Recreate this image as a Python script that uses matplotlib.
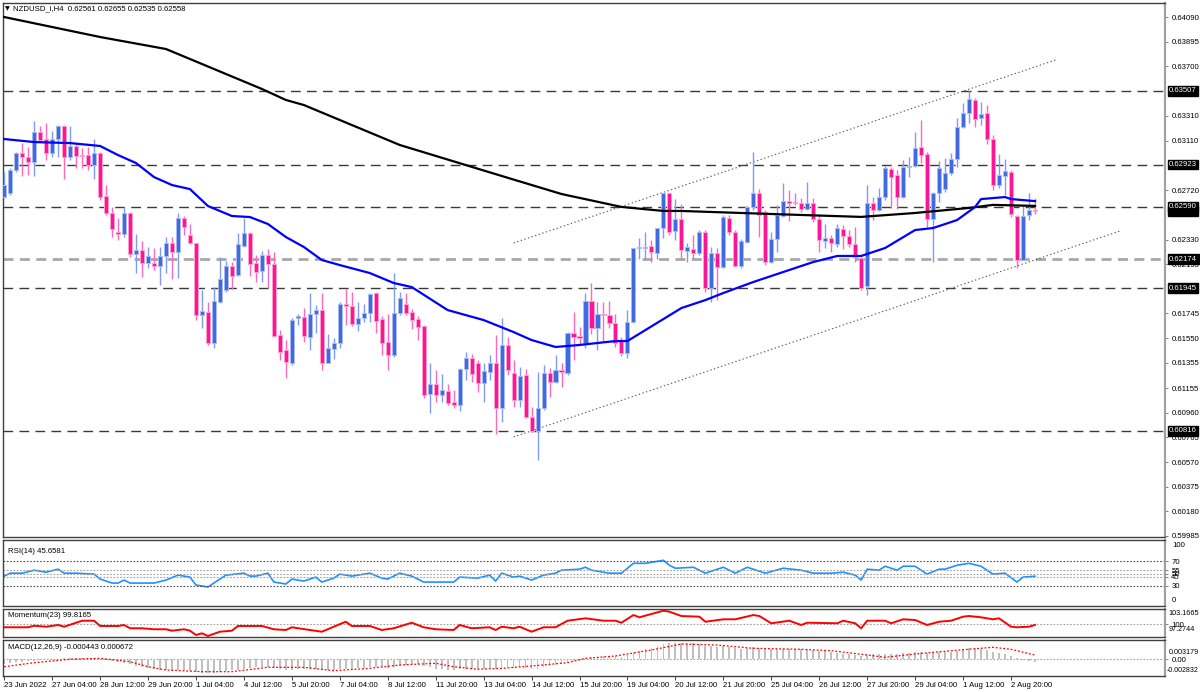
import numpy as np
import matplotlib
matplotlib.use("Agg")
import matplotlib.pyplot as plt
import matplotlib.transforms as mtransforms

plt.rcParams["font.family"] = ["Liberation Sans", "DejaVu Sans"]

# NZDUSD H4 candles, 23 Jun 2022 20:00 .. 3 Aug 2022 12:00 (bar index 0..172)
opens = [0.62667, 0.62698, 0.62880, 0.63015, 0.62983, 0.62944, 0.63181, 0.63126, 0.63015, 0.63126,
         0.63228, 0.62983, 0.63070, 0.62999, 0.62999, 0.62920, 0.63015, 0.62675, 0.62540, 0.62390,
         0.62374, 0.62540, 0.62216, 0.62248, 0.62145, 0.62145, 0.62121, 0.62200, 0.62303, 0.62232,
         0.62501, 0.62366, 0.62303, 0.61733, 0.61757, 0.61512, 0.61836, 0.61931, 0.62121, 0.62050,
         0.62279, 0.62382, 0.62145, 0.62081, 0.62208, 0.62137, 0.61575, 0.61457, 0.61354, 0.61710,
         0.61718, 0.61559, 0.61741, 0.61773, 0.61354, 0.61464, 0.61512, 0.61820, 0.61804, 0.61662,
         0.61710, 0.61749, 0.61907, 0.61702, 0.61520, 0.61417, 0.61749, 0.61820, 0.61757, 0.61702,
         0.61646, 0.61108, 0.61188, 0.61100, 0.61132, 0.61045, 0.61021, 0.61306, 0.61393, 0.61354,
         0.61195, 0.61283, 0.61354, 0.60998, 0.61496, 0.61275, 0.61061, 0.61259, 0.60927, 0.60816,
         0.60998, 0.61275, 0.61203, 0.61298, 0.61275, 0.61591, 0.61567, 0.61512, 0.61844, 0.61630,
         0.61741, 0.61733, 0.61670, 0.61536, 0.61433, 0.61678, 0.62263, 0.62263, 0.62279, 0.62224,
         0.62421, 0.62698, 0.62398, 0.62493, 0.62240, 0.62255, 0.62224, 0.62390, 0.61947, 0.62224,
         0.62113, 0.62501, 0.62390, 0.62121, 0.62311, 0.62588, 0.62698, 0.62548, 0.62153, 0.62335,
         0.62516, 0.62635, 0.62627, 0.62619, 0.62572, 0.62619, 0.62493, 0.62319, 0.62342, 0.62295,
         0.62414, 0.62358, 0.62295, 0.62184, 0.61963, 0.62619, 0.62564, 0.62667, 0.62888, 0.62841,
         0.62667, 0.62904, 0.62912, 0.63062, 0.63007, 0.62493, 0.62698, 0.62730, 0.62857, 0.62967,
         0.63220, 0.63331, 0.63434, 0.63292, 0.63331, 0.63126, 0.62762, 0.62833, 0.62864, 0.62516,
         0.62168, 0.62524, 0.62561]
highs = [0.62864, 0.62896, 0.63023, 0.63094, 0.63062, 0.63268, 0.63228, 0.63252, 0.63189, 0.63236,
         0.63236, 0.63228, 0.63094, 0.63054, 0.63062, 0.63126, 0.63023, 0.62762, 0.62588, 0.62501,
         0.62588, 0.62548, 0.62374, 0.62319, 0.62271, 0.62263, 0.62271, 0.62350, 0.62350, 0.62540,
         0.62516, 0.62453, 0.62303, 0.61931, 0.61836, 0.61955, 0.62192, 0.62160, 0.62153, 0.62382,
         0.62501, 0.62390, 0.62208, 0.62240, 0.62255, 0.62232, 0.61615, 0.61536, 0.61710, 0.61741,
         0.61789, 0.61907, 0.61812, 0.61907, 0.61583, 0.61551, 0.61836, 0.61939, 0.61915, 0.61836,
         0.61820, 0.61907, 0.61915, 0.61725, 0.61741, 0.62066, 0.61915, 0.61907, 0.61781, 0.61725,
         0.61654, 0.61354, 0.61298, 0.61267, 0.61188, 0.61140, 0.61314, 0.61441, 0.61425, 0.61377,
         0.61354, 0.61417, 0.61575, 0.61710, 0.61559, 0.61377, 0.61322, 0.61306, 0.61006, 0.61283,
         0.61338, 0.61314, 0.61417, 0.61354, 0.61599, 0.61757, 0.61638, 0.61907, 0.61987, 0.61836,
         0.61836, 0.61844, 0.61741, 0.61559, 0.61773, 0.62263, 0.62342, 0.62390, 0.62327, 0.62421,
         0.62698, 0.62698, 0.62651, 0.62611, 0.62303, 0.62366, 0.62406, 0.62406, 0.62271, 0.62263,
         0.62524, 0.62524, 0.62406, 0.62335, 0.62596, 0.63023, 0.62730, 0.62564, 0.62390, 0.62603,
         0.62778, 0.62722, 0.62698, 0.62659, 0.62785, 0.62659, 0.62524, 0.62453, 0.62366, 0.62453,
         0.62445, 0.62406, 0.62429, 0.62192, 0.62762, 0.62667, 0.62738, 0.62912, 0.62904, 0.62880,
         0.62959, 0.62983, 0.63181, 0.63276, 0.63023, 0.62706, 0.62951, 0.62975, 0.63015, 0.63292,
         0.63410, 0.63507, 0.63450, 0.63418, 0.63394, 0.63157, 0.63007, 0.62967, 0.62880, 0.62524,
         0.62596, 0.62698, 0.62655]
lows = [0.62659, 0.62683, 0.62864, 0.62833, 0.62841, 0.62833, 0.63102, 0.62959, 0.62983, 0.62983,
        0.62809, 0.62959, 0.62896, 0.62896, 0.62880, 0.62809, 0.62643, 0.62524, 0.62350, 0.62327,
        0.62350, 0.62192, 0.62066, 0.62034, 0.62105, 0.62089, 0.61971, 0.62066, 0.62018, 0.62026,
        0.62366, 0.62295, 0.61694, 0.61630, 0.61496, 0.61472, 0.61828, 0.61915, 0.61939, 0.62042,
        0.62271, 0.62042, 0.61994, 0.61994, 0.61947, 0.61559, 0.61377, 0.61235, 0.61338, 0.61654,
        0.61520, 0.61457, 0.61591, 0.61298, 0.61354, 0.61385, 0.61472, 0.61654, 0.61646, 0.61607,
        0.61678, 0.61678, 0.61591, 0.61417, 0.61298, 0.61401, 0.61733, 0.61733, 0.61623, 0.61536,
        0.61077, 0.60958, 0.61045, 0.61045, 0.61021, 0.60998, 0.60974, 0.61219, 0.61203, 0.61124,
        0.61045, 0.61219, 0.60792, 0.60887, 0.61259, 0.61006, 0.61006, 0.60919, 0.60808, 0.60586,
        0.60982, 0.61085, 0.61195, 0.61164, 0.61259, 0.61377, 0.61496, 0.61472, 0.61583, 0.61457,
        0.61520, 0.61630, 0.61480, 0.61409, 0.61393, 0.61670, 0.62176, 0.62176, 0.62153, 0.62176,
        0.62342, 0.62366, 0.62327, 0.62168, 0.62153, 0.62176, 0.62208, 0.61915, 0.61836, 0.61852,
        0.62105, 0.62366, 0.62113, 0.62105, 0.62303, 0.62564, 0.62350, 0.62129, 0.62145, 0.62232,
        0.62509, 0.62477, 0.62603, 0.62548, 0.62564, 0.62469, 0.62232, 0.62263, 0.62232, 0.62271,
        0.62255, 0.62271, 0.62153, 0.61931, 0.61892, 0.62485, 0.62556, 0.62643, 0.62580, 0.62572,
        0.62659, 0.62825, 0.62904, 0.62936, 0.62429, 0.62153, 0.62627, 0.62706, 0.62841, 0.62904,
        0.63212, 0.63252, 0.63220, 0.63236, 0.63086, 0.62722, 0.62738, 0.62683, 0.62509, 0.62105,
        0.62168, 0.62485, 0.62535]
closes = [0.62762, 0.62880, 0.63015, 0.62983, 0.62944, 0.63181, 0.63118, 0.63015, 0.63126, 0.63228,
          0.62983, 0.63070, 0.62991, 0.62991, 0.62920, 0.63015, 0.62667, 0.62540, 0.62414, 0.62374,
          0.62540, 0.62216, 0.62248, 0.62145, 0.62200, 0.62121, 0.62200, 0.62303, 0.62232, 0.62501,
          0.62429, 0.62303, 0.61733, 0.61765, 0.61512, 0.61844, 0.62018, 0.62121, 0.62042, 0.62295,
          0.62382, 0.62137, 0.62074, 0.62208, 0.62137, 0.61567, 0.61441, 0.61362, 0.61694, 0.61725,
          0.61567, 0.61741, 0.61773, 0.61354, 0.61472, 0.61512, 0.61820, 0.61804, 0.61662, 0.61710,
          0.61749, 0.61899, 0.61686, 0.61512, 0.61417, 0.61749, 0.61868, 0.61749, 0.61694, 0.61638,
          0.61100, 0.61188, 0.61100, 0.61140, 0.61037, 0.61021, 0.61306, 0.61393, 0.61267, 0.61195,
          0.61290, 0.61354, 0.60998, 0.61496, 0.61298, 0.61061, 0.61251, 0.60927, 0.60816, 0.60998,
          0.61275, 0.61203, 0.61298, 0.61283, 0.61591, 0.61559, 0.61551, 0.61844, 0.61630, 0.61741,
          0.61733, 0.61670, 0.61512, 0.61433, 0.61678, 0.62263, 0.62271, 0.62271, 0.62232, 0.62421,
          0.62698, 0.62390, 0.62493, 0.62248, 0.62271, 0.62224, 0.62390, 0.61947, 0.62224, 0.62113,
          0.62509, 0.62390, 0.62121, 0.62319, 0.62588, 0.62698, 0.62524, 0.62153, 0.62335, 0.62524,
          0.62635, 0.62619, 0.62619, 0.62572, 0.62619, 0.62493, 0.62327, 0.62342, 0.62303, 0.62421,
          0.62358, 0.62295, 0.62192, 0.61947, 0.62619, 0.62564, 0.62667, 0.62896, 0.62825, 0.62667,
          0.62904, 0.62912, 0.63054, 0.62999, 0.62493, 0.62698, 0.62896, 0.62857, 0.62967, 0.63220,
          0.63331, 0.63442, 0.63284, 0.63323, 0.63126, 0.62762, 0.62841, 0.62872, 0.62532, 0.62168,
          0.62516, 0.62564, 0.62558]

# moving averages (bar index, price)
ma_fast_bars = [0, 5, 11, 16, 19, 22, 25, 28, 31, 34, 38, 41, 44, 47, 50, 53, 56, 61, 65, 68, 74,
                80, 85, 88, 92, 96, 102, 104, 107, 113, 117, 120, 125, 131, 135, 139, 143, 147,
                152, 155, 159, 162, 163, 167, 168, 172]
ma_fast = [0.63125, 0.63101, 0.63093, 0.63070, 0.62998, 0.62935, 0.62824, 0.62761, 0.62729,
           0.62595, 0.62516, 0.62508, 0.62453, 0.62350, 0.62271, 0.62168, 0.62128, 0.62065,
           0.61986, 0.61954, 0.61772, 0.61693, 0.61598, 0.61535, 0.61480, 0.61496, 0.61527,
           0.61527, 0.61614, 0.61788, 0.61851, 0.61907, 0.61994, 0.62089, 0.62152, 0.62200,
           0.62200, 0.62263, 0.62405, 0.62421, 0.62484, 0.62587, 0.62650, 0.62666, 0.62650, 0.62634]
ma_slow_bars = [0, 16, 27, 43, 47, 50, 66, 83, 93, 103, 110, 113, 128, 143, 152, 161, 165, 172]
ma_slow = [0.64090, 0.63932, 0.63837, 0.63521, 0.63434, 0.63394, 0.63078, 0.62833, 0.62690,
           0.62588, 0.62556, 0.62556, 0.62532, 0.62509, 0.62540, 0.62580, 0.62604, 0.62596]

# horizontal levels and channel lines
levels = [0.63507, 0.62923, 0.62590, 0.61945, 0.60816]
level_grey = 0.62174
channel_upper = ([85, 175.4], [0.62303, 0.63750])
channel_lower = ([85, 186.2], [0.60768, 0.62398])
last_price = 0.62558

price_ticks = [0.64090, 0.63895, 0.63700, 0.63310, 0.63110, 0.62720, 0.62330, 0.62135,
               0.61745, 0.61550, 0.61355, 0.61155, 0.60960, 0.60765, 0.60570, 0.60375,
               0.60180, 0.59985]

# indicators (bar index, value)
rsi_bars = [0, 1, 3, 5, 7, 9, 10, 12, 15, 16, 18, 19, 20, 21, 25, 27, 29, 31, 32, 34, 36, 37, 40,
            41, 42, 44, 45, 47, 48, 50, 52, 53, 55, 56, 58, 61, 63, 64, 66, 68, 70, 75, 76, 79,
            81, 82, 83, 85, 86, 88, 90, 92, 93, 96, 97, 98, 101, 103, 105, 107, 110, 111, 112,
            115, 117, 118, 120, 122, 124, 127, 130, 133, 135, 138, 140, 142, 143, 144, 146, 147,
            149, 150, 152, 154, 156, 157, 159, 161, 163, 165, 167, 169, 170, 172]
rsi = [45.8, 50.5, 50.5, 55.3, 52.1, 56.9, 50.5, 50.5, 49.0, 41.1, 34.7, 34.7, 39.5, 34.7, 34.7,
       39.5, 47.4, 44.2, 31.6, 28.4, 41.1, 47.4, 50.5, 45.8, 45.8, 50.5, 36.3, 33.2, 41.1, 37.9,
       44.2, 36.3, 42.6, 49.0, 45.8, 50.5, 42.6, 41.1, 50.5, 45.8, 36.3, 36.3, 44.2, 42.6, 47.4,
       37.9, 50.5, 44.2, 45.8, 39.5, 47.4, 50.5, 55.3, 56.9, 60.0, 55.3, 50.5, 50.5, 66.3, 66.3,
       71.1, 63.2, 58.4, 60.0, 50.5, 53.7, 60.0, 50.5, 60.0, 50.5, 58.4, 55.3, 50.5, 50.5, 52.1,
       47.4, 39.5, 56.9, 55.3, 61.6, 55.3, 61.6, 61.6, 49.0, 56.9, 56.9, 63.2, 66.3, 61.6, 49.0,
       50.5, 36.3, 44.2, 45.66]

mom_bars = [0, 4, 5, 7, 9, 10, 12, 13, 15, 16, 19, 20, 21, 23, 25, 27, 28, 30, 31, 32, 33, 34,
            36, 38, 39, 43, 45, 47, 48, 51, 53, 55, 57, 58, 61, 63, 65, 66, 68, 70, 72, 75, 76,
            78, 81, 82, 83, 85, 86, 88, 90, 92, 94, 97, 100, 102, 103, 105, 106, 110, 111, 113,
            116, 117, 120, 122, 125, 126, 128, 131, 133, 134, 139, 140, 142, 143, 144, 147, 148,
            150, 152, 154, 156, 158, 160, 161, 163, 165, 166, 168, 169, 171, 172]
mom = [99.32, 99.32, 99.65, 99.44, 99.80, 99.44, 100.28, 100.70, 100.70, 99.59, 99.59, 99.80,
       99.11, 99.11, 98.90, 98.90, 98.60, 98.90, 98.60, 97.70, 98.05, 97.49, 98.39, 98.60, 99.59,
       99.59, 98.90, 98.75, 99.32, 98.75, 98.39, 99.44, 100.49, 99.59, 99.59, 98.75, 99.11, 99.49,
       100.28, 99.32, 98.90, 98.75, 99.80, 99.11, 99.32, 98.75, 99.44, 99.11, 99.44, 98.39, 99.32,
       99.32, 100.70, 101.21, 100.70, 100.70, 100.28, 101.90, 101.42, 102.81, 102.60, 101.69,
       101.55, 100.49, 101.00, 101.00, 101.90, 101.69, 100.16, 100.70, 99.80, 100.28, 100.16,
       100.70, 100.16, 99.11, 100.70, 100.70, 100.16, 101.00, 100.85, 99.80, 100.49, 100.70,
       101.55, 101.69, 101.42, 101.00, 101.21, 99.44, 99.32, 99.44, 99.8165]

# MACD main (histogram) per bar, in 1e-6
macd_hist = [-800, -700, -550, -450, -350, -250, -150, -50, 0, 50, 100, 150, 150, 150, 150, 120,
             50, -100, -300, -500, -700, -900, -1100, -1300, -1500, -1700, -1800, -1900, -2000,
             -1900, -1900, -2000, -2200, -2300, -2400, -2300, -2200, -2000, -1900, -1800, -1600,
             -1500, -1400, -1300, -1300, -1500, -1700, -1900, -1800, -1700, -1700, -1600, -1600,
             -1800, -1900, -1900, -1700, -1600, -1600, -1500, -1500, -1300, -1300, -1400, -1500,
             -1300, -1100, -1000, -900, -900, -1200, -1400, -1600, -1700, -1800, -1900, -1700,
             -1600, -1600, -1600, -1600, -1500, -1700, -1400, -1400, -1500, -1400, -1500, -1700,
             -1600, -1300, -1200, -1000, -900, -500, -300, -100, 200, 300, 400, 500, 500, 500, 400,
             600, 1100, 1400, 1700, 1900, 2100, 2500, 2600, 2700, 2700, 2600, 2600, 2500, 2200,
             2100, 2000, 2100, 2000, 1800, 1700, 1800, 2000, 1900, 1700, 1600, 1600, 1700, 1700,
             1600, 1600, 1600, 1500, 1400, 1300, 1100, 1000, 900, 800, 700, 500, 700, 800, 800, 900,
             900, 900, 1000, 1000, 1100, 1100, 1000, 1000, 1100, 1100, 1200, 1400, 1600, 1800,
             1800, 1700, 1500, 1200, 1000, 800, 500, 100, -100, -300, -443]
sig_bars = [0, 5, 11, 16, 21, 24, 27, 33, 38, 44, 50, 55, 61, 66, 72, 75, 79, 83, 88, 94, 97, 102,
            108, 113, 119, 125, 133, 138, 144, 147, 152, 158, 165, 168, 172]
macd_signal = [-0.00128, -0.00061, -0.00004, 0.00012, -0.00044, -0.00128, -0.00183, -0.00211,
               -0.00211, -0.00138, -0.00138, -0.00195, -0.00155, -0.00100, -0.00071, -0.00128,
               -0.00171, -0.00155, -0.00116, -0.00061, 0.00012, 0.00051, 0.00151, 0.00251,
               0.00234, 0.00179, 0.00163, 0.00139, 0.00068, 0.00029, 0.00084, 0.00139, 0.00196,
               0.00163, 0.00067]

time_labels = ["23 Jun 2022", "27 Jun 04:00", "28 Jun 12:00", "29 Jun 20:00", "1 Jul 04:00",
               "4 Jul 12:00", "5 Jul 20:00", "7 Jul 04:00", "8 Jul 12:00", "11 Jul 20:00",
               "13 Jul 04:00", "14 Jul 12:00", "15 Jul 20:00", "19 Jul 04:00", "20 Jul 12:00",
               "21 Jul 20:00", "25 Jul 04:00", "26 Jul 12:00", "27 Jul 20:00", "29 Jul 04:00",
               "1 Aug 12:00", "2 Aug 20:00"]

FS = 5.6
W, H = 1200, 692
fig = plt.figure(figsize=(W / 100, H / 100), dpi=100)


def panel(top, bottom):
    a = fig.add_axes([3 / W, 1 - bottom / H, 1162 / W, (bottom - top) / H])
    for s in ["left", "top", "bottom"]:
        a.spines[s].set_color("#404040")
        a.spines[s].set_linewidth(1)
    a.spines["right"].set_color("#a0a0a0")
    a.spines["right"].set_linewidth(1.6)
    a.set_xlim(-0.2, 193.7)
    a.yaxis.tick_right()
    a.tick_params(axis="y", direction="out", length=2.5, width=0.7, color="#808080",
                  labelsize=FS, pad=2)
    a.tick_params(axis="x", bottom=False, labelbottom=False)
    return a


ax = panel(3, 537)
ax_rsi = panel(540, 606)
ax_mom = panel(609, 637)
ax_macd = panel(640, 676)

# --- main price panel
ax.set_ylim(0.59977, 0.64201)
ax.set_yticks(price_ticks)
ax.set_yticklabels([f"{t:.5f}" for t in price_ticks])

idx = np.arange(len(closes))
o = np.array(opens)
c = np.array(closes)
up = c >= o
body_lo = np.minimum(o, c)
body_h = np.maximum(np.abs(c - o), 0.000025)

ax.vlines(idx[up], np.array(lows)[up], np.array(highs)[up], color="#7f9cf0", lw=1, zorder=3)
ax.vlines(idx[~up], np.array(lows)[~up], np.array(highs)[~up], color="#ff6ab8", lw=1, zorder=3)
ax.bar(idx[up], body_h[up], bottom=body_lo[up], width=0.68, color="#4169e1",
       edgecolor="#a9bcf2", linewidth=0.7, zorder=4)
ax.bar(idx[~up], body_h[~up], bottom=body_lo[~up], width=0.68, color="#ff1493",
       edgecolor="#ff9fd0", linewidth=0.7, zorder=4)

ax.plot(ma_slow_bars, ma_slow, color="black", lw=1.6, zorder=5)
ax.plot(ma_fast_bars, ma_fast, color="#0000ff", lw=1.6, zorder=5)

for lv in levels:
    ax.axhline(lv, color="#3a3a3a", lw=1, dashes=(7, 4.5), zorder=2)
ax.axhline(level_grey, color="#a8a8a8", lw=2, dashes=(3.6, 2.3), zorder=2)

for xs, ys in (channel_upper, channel_lower):
    ax.plot(xs, ys, color="#555555", lw=0.8, ls=(0, (1.2, 2.2)), zorder=2)

trans = mtransforms.blended_transform_factory(ax.transAxes, ax.transData)
box = dict(boxstyle="square,pad=0.18", fc="black", ec="black")
ax.text(1.0035, last_price, f"{last_price:.5f}", transform=trans, color="white", fontsize=FS,
        va="center", ha="left", bbox=box, clip_on=False, zorder=10)
for lv in levels + [level_grey]:
    ax.text(1.0035, lv, f"{lv:.5f}", transform=trans, color="white", fontsize=FS,
            va="center", ha="left", bbox=box, clip_on=False, zorder=11)

fig.text(5 / W, 1 - 9 / H, "\u25bc", fontsize=4.5, va="center", ha="left",
         family="DejaVu Sans")
fig.text(13 / W, 1 - 9 / H, "NZDUSD_i,H4  0.62561 0.62655 0.62535 0.62558", fontsize=FS,
         va="center", ha="left")

# --- RSI
ax_rsi.set_ylim(-2, 103.6)
ax_rsi.plot(rsi_bars, rsi, color="#1e90ff", lw=1.2)
for lv in (70, 30):
    ax_rsi.axhline(lv, color="#505050", lw=0.8, ls=(0, (1.5, 1.5)))
for lv in (45, 50, 55):
    ax_rsi.axhline(lv, color="#a0a0a0", lw=0.8, ls=(0, (1.5, 1.5)))
ax_rsi.set_yticks([70, 55, 50, 45, 30])
ax_rsi.set_yticklabels(["70", "55", "50", "45", "30"])
tr = mtransforms.blended_transform_factory(ax_rsi.transAxes, ax_rsi.transData)
ax_rsi.text(1.006, 95, "100", transform=tr, fontsize=FS, va="center", clip_on=False)
ax_rsi.text(1.006, 6, "0", transform=tr, fontsize=FS, va="center", clip_on=False)
ax_rsi.text(0.004, 0.82, "RSI(14) 45.6581", transform=ax_rsi.transAxes, fontsize=FS,
            va="center")

# --- Momentum
ax_mom.set_ylim(97.2744, 103.1665)
ax_mom.axhline(100, color="#a0a0a0", lw=0.8, ls=(0, (1.5, 1.5)))
ax_mom.plot(mom_bars, mom, color="#ff0000", lw=1.4)
ax_mom.set_yticks([100])
ax_mom.set_yticklabels(["100"])
tr = mtransforms.blended_transform_factory(ax_mom.transAxes, ax_mom.transData)
ax_mom.text(1.003, 102.3, "103.1665", transform=tr, fontsize=5.2, va="center", clip_on=False)
ax_mom.text(1.003, 98.9, "97.2744", transform=tr, fontsize=5.2, va="center", clip_on=False)
ax_mom.text(0.004, 0.78, "Momentum(23) 99.8165", transform=ax_mom.transAxes, fontsize=FS,
            va="center")

# --- MACD
ax_macd.set_ylim(-0.002832, 0.003179)
ax_macd.bar(idx, np.array(macd_hist) * 1e-6, width=0.3, color="#c0c0c0", zorder=2)
ax_macd.axhline(0, color="#a0a0a0", lw=0.8, ls=(0, (1.5, 1.5)), zorder=1)
ax_macd.plot(sig_bars, macd_signal, color="#ff0000", lw=0.9, ls=(0, (1.5, 1.5)), zorder=3)
ax_macd.set_yticks([0])
ax_macd.set_yticklabels(["0.00"])
tr = mtransforms.blended_transform_factory(ax_macd.transAxes, ax_macd.transData)
ax_macd.text(1.003, 0.00106, "0.003179", transform=tr, fontsize=5.2, va="center", clip_on=False)
ax_macd.text(1.0015, -0.00195, "-0.002832", transform=tr, fontsize=5.0, va="center",
             clip_on=False)
ax_macd.text(0.004, 0.8, "MACD(12,26,9) -0.000443 0.000672", transform=ax_macd.transAxes,
             fontsize=FS, va="center")

ax_macd.set_xticks(range(0, 169, 8))
ax_macd.set_xticklabels(time_labels)
ax_macd.tick_params(axis="x", bottom=True, labelbottom=True, direction="out", length=3,
                    width=0.7, color="#404040", labelsize=FS, pad=1.5)
for lab in ax_macd.get_xticklabels():
    lab.set_horizontalalignment("left")

fig.savefig("out.png", dpi=100)
